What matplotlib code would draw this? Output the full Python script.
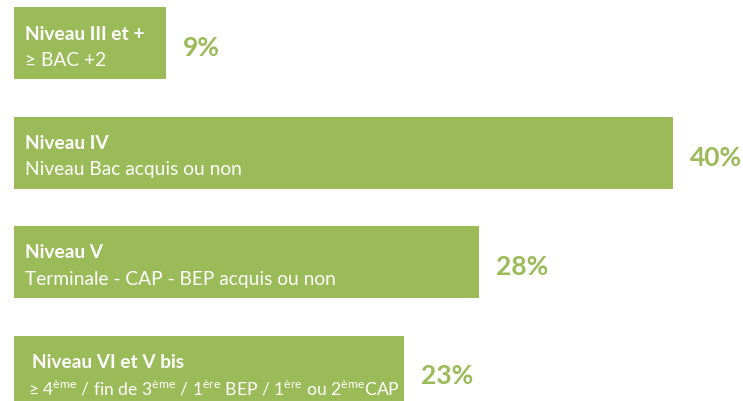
import matplotlib
matplotlib.use("Agg")
from matplotlib import pyplot as plt

# data
levels = ["Niveau III et +", "Niveau IV", "Niveau V", "Niveau VI et V bis"]
details = [
    "≥ BAC +2",
    "Niveau Bac acquis ou non",
    "Terminale - CAP - BEP acquis ou non",
    r"≥ 4$^{\mathrm{ème}}$ / fin de 3$^{\mathrm{ème}}$ / 1$^{\mathrm{ère}}$ BEP / 1$^{\mathrm{ère}}$ ou 2$^{\mathrm{ème}}$CAP",
]
# bar lengths as measured, and the rounded labels printed next to them
shares = [9.2, 40, 28.2, 23.7]
share_labels = ["9%", "40%", "28%", "23%"]

green = "#9BBB59"
plt.rcParams["font.family"] = ["Lato", "DejaVu Sans"]
plt.rcParams["mathtext.fontset"] = "custom"
plt.rcParams["mathtext.rm"] = "Lato"

fig = plt.figure(figsize=(7.43, 4.02), dpi=100)
ax = fig.add_axes([0, 0, 1, 1])

# scale: 0 at 14px, 40 at 673px ; bar pitch 109.5px, first centre at 44px
px_per_unit = (673 - 14) / 40
ax.set_xlim(-14 / px_per_unit, (743 - 14) / px_per_unit)
ax.set_ylim((402 - 44) / 109.5, -44 / 109.5)
ax.axis("off")

pos = list(range(len(shares)))
ax.barh(pos, shares, height=72 / 109.5, color=green, left=0)

pt = 0.72  # points per pixel at 100 dpi
indents = [11, 11, 11, 18]
for i, (lvl, det, v, lab) in enumerate(zip(levels, details, shares, share_labels)):
    ax.annotate(lvl, (0, i), xytext=(indents[i] * pt, 10 * pt), textcoords="offset points",
                color="white", fontsize=13.8, fontweight="bold", va="center", ha="left")
    ax.annotate(det, (0, i), xytext=((indents[i] - (4 if i == 3 else 0)) * pt, -16 * pt),
                textcoords="offset points", color="white",
                fontsize=12.6 if i == 3 else 13.8, va="center", ha="left")
    ax.annotate(lab, (v, i), xytext=(17 * pt, -4 * pt), textcoords="offset points",
                color=green, fontsize=19, fontweight="bold", va="center", ha="left")

fig.savefig("out.png", dpi=100)
